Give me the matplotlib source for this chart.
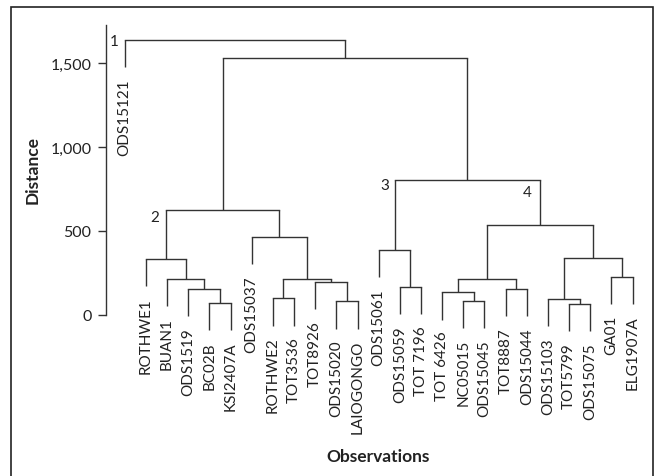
import matplotlib.pyplot as plt
from matplotlib.patches import Rectangle
from matplotlib.ticker import FuncFormatter

# leaf labels in plotting order (left to right)
leaves = ["ODS15121", "ROTHWE1", "BUAN1", "ODS1519", "BC02B", "KSI2407A",
          "ODS15037", "ROTHWE2", "TOT3536", "TOT8926", "ODS15020", "LAIOGONGO",
          "ODS15061", "ODS15059", "TOT 7196", "TOT 6426", "NC05015", "ODS15045",
          "TOT8887", "ODS15044", "ODS15103", "TOT5799", "ODS15075", "GA01",
          "ELG1907A"]

# merges, linkage style: ids < 25 are leaves, merge k gets id 25 + k
merge_left = [21, 4, 10, 16, 20, 7, 15, 3, 18, 13, 9, 2, 30, 31, 23,
              1, 29, 12, 6, 38, 40, 42, 45, 0]
merge_right = [22, 5, 11, 17, 25, 8, 28, 26, 19, 14, 27, 32, 35, 33, 24,
               36, 39, 34, 37, 41, 43, 44, 46, 47]
merge_height = [64, 70, 81, 85, 95, 99, 135, 155, 155, 165, 195, 214, 214, 214, 228,
                333, 337, 389, 464, 536, 625, 804, 1530, 1639]

# numbered clusters
cluster_ids = [48, 45, 46, 44]
cluster_text = ["1", "2", "3", "4"]

HANG = 162
LINE = "#333333"
plt.rcParams["font.family"] = "Lato"

n = len(leaves)
xpos = {i: float(i) for i in range(n)}
hpos = {}
parent = {}
for k, (a, b, h) in enumerate(zip(merge_left, merge_right, merge_height)):
    node = n + k
    xpos[node] = (xpos[a] + xpos[b]) / 2
    hpos[node] = h
    parent[a] = node
    parent[b] = node

fig = plt.figure(figsize=(6.56, 4.77), dpi=100)
ax = fig.add_axes([106 / 656, 127 / 477, 544 / 656, 324 / 477])

for k, (a, b, h) in enumerate(zip(merge_left, merge_right, merge_height)):
    for c in (a, b):
        bottom = hpos[c] if c >= n else h - HANG
        ax.plot([xpos[c], xpos[c]], [bottom, h], color=LINE, lw=1.0,
                solid_capstyle="butt", clip_on=False)
        if c < n:
            ax.annotate(leaves[c], (xpos[c], bottom), xytext=(0, -8),
                        textcoords="offset points", rotation=90,
                        ha="center", va="top", fontsize=11, color="#222222")
    ax.plot([xpos[a], xpos[b]], [h, h], color=LINE, lw=1.0,
            solid_capstyle="projecting", clip_on=False)

# cluster numbers: "4" sits beside its stem, the others at the left end of their bar
offsets = [(-4, -1), (-5, -5), (-4, -4), (-6, -9)]
for node, txt, off in zip(cluster_ids, cluster_text, offsets):
    k = node - n
    if txt == "4":
        xy = (xpos[node], hpos[parent[node]])
    else:
        xy = (xpos[merge_left[k]], hpos[node])
    ax.annotate(txt, xy, xytext=off, textcoords="offset points",
                ha="right", va="center", fontsize=11, color="#222222")

ax.set_xlim(-0.883, 24.82)
ax.set_ylim(-202.4, 1726)
ax.set_xticks([])
ax.set_yticks([0, 500, 1000, 1500])
ax.yaxis.set_major_formatter(FuncFormatter(lambda v, p: f"{int(v):,}"))
ax.tick_params(axis="y", length=5.5, width=1.0, color=LINE, pad=5,
               labelsize=11.5, labelcolor="#222222")
for s in ("top", "right", "bottom"):
    ax.spines[s].set_visible(False)
ax.spines["left"].set_bounds(0, 1726)
ax.spines["left"].set_color(LINE)
ax.spines["left"].set_linewidth(1.0)
ax.patch.set_visible(False)

fig.text(33 / 656, 1 - 170 / 477, "Distance", rotation=90, ha="center",
         va="center", fontsize=12.5, fontweight="bold", color="#222222")
fig.text(378 / 656, 1 - 457 / 477, "Observations", ha="center",
         va="center", fontsize=12.5, fontweight="bold", color="#222222")

# outer frame, open at the bottom
fig.add_artist(Rectangle((10.5 / 656, -0.1), 642 / 656, 1.1 - 7.5 / 477,
                         transform=fig.transFigure, fill=False,
                         edgecolor="#222222", lw=1.2))

fig.savefig("out.png", dpi=100)
